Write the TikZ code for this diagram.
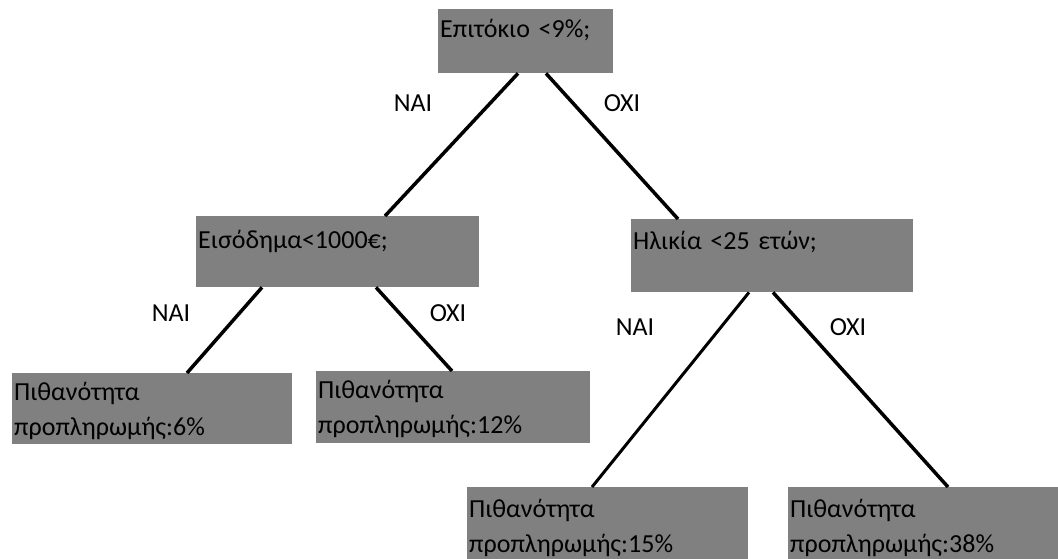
\documentclass[tikz,border=0pt]{standalone}
\usepackage{fontspec}
\setmainfont{Carlito}
\definecolor{boxgray}{RGB}{128,128,128}

\begin{document}
\begin{tikzpicture}[x=1pt, y=-1pt,
box/.style={fill=boxgray, anchor=north west, inner xsep=2pt, inner ysep=0pt, align=left, font=\fontsize{26}{35}\selectfont},
lbl/.style={font=\fontsize{26}{35}\selectfont, inner sep=0pt},
edge/.style={black, line width=3.5pt}]
\useasboundingbox (0,0) rectangle (1058,559);
 \node[box, text width=171pt, text height=28pt, text depth=36pt] (root) at (438,9) {Επιτόκιο <9\%;};
 \node[box, text width=279pt, text height=32pt, text depth=39pt] (income) at (196,216) {Εισόδημα<1000€;};
 \node[box, text width=278pt, text height=30pt, text depth=43pt] (age) at (631,219) {Ηλικία <25 ετών;};
 \node[box, text width=276pt, text height=27pt, text depth=44pt] (leafa) at (12,373) {Πιθανότητα\\προπληρωμής:6\%};
 \node[box, text width=270pt, text height=27pt, text depth=45pt] (leafb) at (316,371) {Πιθανότητα\\προπληρωμής:12\%};
 \node[box, text width=277pt, text height=30pt, text depth=42pt] (leafc) at (467,487) {Πιθανότητα\\προπληρωμής:15\%};
 \node[box, text width=266pt, text height=30pt, text depth=42pt] (leafd) at (788,487) {Πιθανότητα\\προπληρωμής:38\%};
\draw[edge] ([xshift=80pt]root.south west) -- ([xshift=189pt]income.north west);
\draw[edge] ([xshift=108pt]root.south west) -- ([xshift=47pt]age.north west);
\draw[edge] ([xshift=66pt]income.south west) -- ([xshift=175pt]leafa.north west);
\draw[edge] ([xshift=180pt]income.south west) -- ([xshift=136pt]leafb.north west);
\draw[edge, line width=3pt] ([xshift=118pt]age.south west) -- ([xshift=125pt]leafc.north west);
\draw[edge] ([xshift=142pt]age.south west) -- ([xshift=160pt]leafd.north west);
 \node[lbl] (naia) at (413,103) {NAI};
 \node[lbl] (oxia) at (622,103) {OXI};
 \node[lbl] (naib) at (171,313) {NAI};
 \node[lbl] (oxib) at (448,313) {OXI};
 \node[lbl] (naic) at (635,327) {NAI};
 \node[lbl] (oxic) at (848,327) {OXI};
\end{tikzpicture}
\end{document}
